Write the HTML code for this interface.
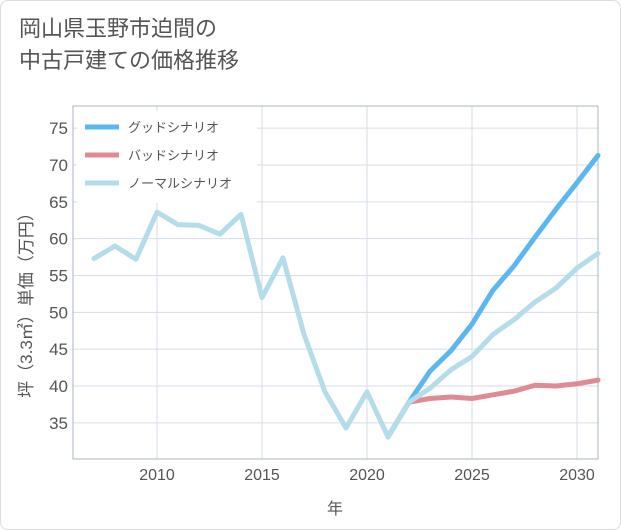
<!DOCTYPE html>
<html><head><meta charset="utf-8">
<style>
body{margin:0;background:#fff;}
#wrap{width:621px;height:530px;position:relative;background:#fff;border:1px solid #ddd;box-sizing:border-box;border-radius:8px;overflow:hidden;font-family:"Liberation Sans","Noto Sans CJK JP",sans-serif;}
h1{position:absolute;left:18px;top:12px;margin:0;font-weight:normal;font-size:22px;line-height:32px;color:#555;}
svg text{font-family:"Liberation Sans","Noto Sans CJK JP",sans-serif;}
</style></head><body>
<div id="wrap">
<h1>岡山県玉野市迫間の<br>中古戸建ての価格推移</h1>
<svg id="chart" width="621" height="530" style="position:absolute;left:0;top:0"></svg>
</div>
<script>
const normalYears=[2007,2008,2009,2010,2011,2012,2013,2014,2015,2016,2017,2018,2019,2020,2021,2022,2023,2024,2025,2026,2027,2028,2029,2030,2031];
const normalValues=[57.3,59,57.2,63.6,61.9,61.8,60.6,63.3,52,57.4,47,39.2,34.3,39.2,33.1,37.8,39.7,42.2,44,47,49,51.4,53.3,56,58];
const goodYears=[2021,2022,2023,2024,2025,2026,2027,2028,2029,2030,2031];
const goodValues=[33.1,37.8,42,44.8,48.4,53,56.3,60.2,64,67.6,71.3];
const badYears=[2021,2022,2023,2024,2025,2026,2027,2028,2029,2030,2031];
const badValues=[33.1,37.8,38.3,38.5,38.3,38.8,39.3,40.1,40,40.3,40.8];
const xTicks=[2010,2015,2020,2025,2030];
const yTicks=[35,40,45,50,55,60,65,70,75];
const legendLabels=["グッドシナリオ","バッドシナリオ","ノーマルシナリオ"];

const NS="http://www.w3.org/2000/svg";
const svg=document.getElementById('chart');
const L=72,R=597,T=105,B=458;
const x=v=>156+(v-2010)*21;
const y=v=>164-(v-70)*(221/30);
function mk(t,a,p){const e=document.createElementNS(NS,t);for(const k in a)e.setAttribute(k,a[k]);(p||svg).appendChild(e);return e;}
xTicks.forEach(v=>{
 const g=mk('line',{x1:x(v),x2:x(v),y1:T,y2:B,stroke:'#d5dde8','stroke-width':1});
 
 
 const t=mk('text',{x:x(v),y:B+21,'text-anchor':'middle','font-size':16,fill:'#555'});
 t.textContent=v;
 
 
});
yTicks.forEach(v=>{
 const g=mk('line',{x1:L,x2:R,y1:y(v),y2:y(v),stroke:'#d5dde8','stroke-width':1});
 
 
 const t=mk('text',{x:L-5,y:y(v)+6,'text-anchor':'end','font-size':17,fill:'#555'});
 t.textContent=v;
 
 
});
const frame=mk('rect',{x:L,y:T,width:R-L,height:B-T,fill:'none',stroke:'#aab4c4','stroke-width':1});


function line(xs,vs,color,name){
 const p=mk('polyline',{points:xs.map((a,i)=>x(a)+','+y(vs[i])).join(' '),fill:'none',stroke:color,'stroke-width':5,'stroke-linejoin':'round','stroke-linecap':'round'});
 
 
}
line(badYears,badValues,'#e08a93','bad-scenario-line');
line(goodYears,goodValues,'#5cb6f2','good-scenario-line');
line(normalYears,normalValues,'#b5dcea','normal-scenario-line');
const lg=mk('rect',{x:76,y:110,width:180,height:92,fill:'#fff'});


const lc=['#5cb6f2','#e08a93','#b5dcea'];
legendLabels.forEach((s,i)=>{
 const yy=126+i*28;
 const l=mk('line',{x1:84,x2:118,y1:yy,y2:yy,stroke:lc[i],'stroke-width':5});
 
 
 const t=mk('text',{x:127,y:yy+5,'font-size':13,fill:'#555'});
 t.textContent=s;
 
 
});
const xt=mk('text',{x:334,y:513,'text-anchor':'middle','font-size':16,fill:'#555'});
xt.textContent='年';


const yt=mk('text',{x:0,y:0,'text-anchor':'middle','font-size':17,fill:'#555',transform:'translate(31,300) rotate(-90)'});
yt.textContent='坪（3.3㎡）単価（万円）';


</script>
</body></html>
